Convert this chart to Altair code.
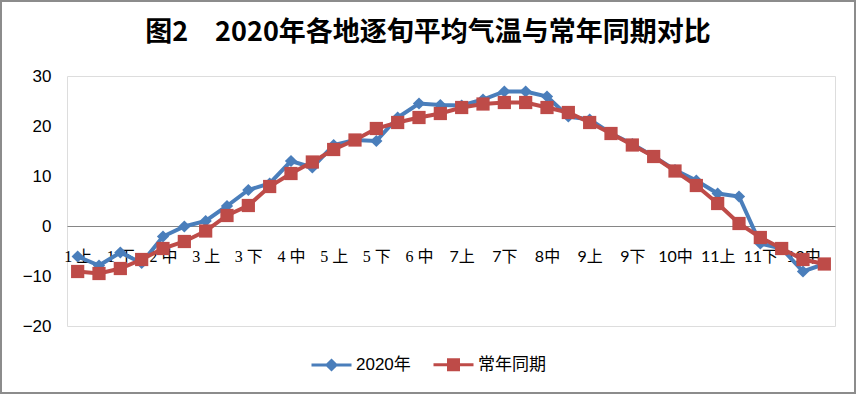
import altair as alt
import pandas as pd

categories = ["1上", "1中", "1下", "2上", "2中", "2下", "3上", "3中", "3下",
              "4上", "4中", "4下", "5上", "5中", "5下", "6上", "6中", "6下",
              "7上", "7中", "7下", "8上", "8中", "8下", "9上", "9中", "9下",
              "10上", "10中", "10下", "11上", "11中", "11下", "12上", "12中", "12下"]
labeled = categories[::2]

series_names = ["2020年", "常年同期"]
temp_2020 = [-6.1, -7.9, -5.3, -7.4, -2.1, -0.1, 1.0, 4.0, 7.2, 8.5, 13.0, 11.7,
             16.2, 17.2, 17.0, 21.7, 24.5, 24.2, 24.1, 25.3, 26.9, 26.9, 25.9, 21.9,
             21.3, 18.5, 16.4, 13.9, 11.2, 9.1, 6.5, 5.9, -3.5, -4.5, -9.1, -7.6]
temp_normal = [-9.1, -9.5, -8.5, -6.7, -4.5, -3.1, -1.0, 2.1, 4.1, 7.9, 10.5, 12.8,
               15.3, 17.2, 19.5, 20.7, 21.7, 22.5, 23.7, 24.4, 24.7, 24.7, 23.7, 22.7,
               20.7, 18.5, 16.2, 13.9, 11.0, 8.1, 4.5, 0.5, -2.3, -4.5, -6.7, -7.6]

colors = ["#4A7EBB", "#BE4B48"]

rows = []
for name, vals in zip(series_names, [temp_2020, temp_normal]):
    for c, v in zip(categories, vals):
        rows.append({"cat": c, "series": name, "value": v})
df = pd.DataFrame(rows)

early = "parseInt(datum.value) <= 6"
x_enc = alt.X("cat:N", sort=categories, title=None,
              axis=alt.Axis(values=labeled, labelAngle=0, ticks=False, grid=False,
                            domainColor="#868686", domainWidth=1, offset=-100,
                            labelPadding=22,
                            labelExpr="parseInt(datum.value) <= 6 ? slice(datum.value, 0, -1) + ' ' + slice(datum.value, -1) : datum.value",
                            labelFont={"condition": {"test": early, "value": "Liberation Serif, Noto Sans CJK SC"},
                                       "value": "Lato, Noto Sans CJK SC"},
                            labelFontSize=16, labelColor="#000000", labelOverlap=False))
y_enc = alt.Y("value:Q", title=None,
              scale=alt.Scale(domain=[-20, 30], nice=False, zero=False),
              axis=alt.Axis(values=[-20, -10, 0, 10, 20, 30], ticks=False, domain=False,
                            grid=False, labelPadding=16, labelFont="Liberation Sans",
                            labelFontSize=17, labelColor="#000000"))

base = alt.Chart(df).encode(x=x_enc, y=y_enc)

layers = []
shapes = ["diamond", "square"]
sizes = [150, 175]
for name, col, shp, sz in zip(series_names, colors, shapes, sizes):
    sub = base.transform_filter(alt.datum.series == name)
    layers.append(sub.mark_line(color=col, strokeWidth=4))
    layers.append(sub.mark_point(color=col, filled=True, opacity=1, shape=shp, size=sz))

legend_paths = [
    "M-1,0L1,0M0,-0.225L0.225,0L0,0.225L-0.225,0ZM0,-0.075L0.075,0L0,0.075L-0.075,0Z",
    "M-1,0L1,0M-0.25,-0.25L0.25,-0.25L0.25,0.25L-0.25,0.25ZM-0.1,-0.1L0.1,-0.1L0.1,0.1L-0.1,0.1ZM-0.025,-0.025L0.025,-0.025L0.025,0.025L-0.025,0.025Z",
]
legend = alt.Legend(title=None, orient="none", direction="horizontal",
                    legendX=243, legendY=267, symbolSize=1600, symbolStrokeWidth=3,
                    symbolOpacity=1, labelFont="Liberation Sans, Noto Sans CJK SC",
                    labelFontSize=17, labelColor="#000000", labelOffset=3,
                    columnPadding=16, padding=0)
hidden = base.mark_point(filled=False, opacity=0).encode(
    color=alt.Color("series:N", scale=alt.Scale(domain=series_names, range=colors), legend=legend),
    shape=alt.Shape("series:N", scale=alt.Scale(domain=series_names, range=legend_paths), legend=legend),
)
layers.append(hidden)

border = alt.Chart(pd.DataFrame({"a": [0]})).mark_rect(
    fill=None, stroke="#8C8C8C", strokeWidth=2
).encode(x=alt.value(-66), x2=alt.value(788), y=alt.value(-75), y2=alt.value(317))

chart = alt.layer(border, *layers).properties(
    width=768, height=250,
    autosize=alt.AutoSizeParams(type="none"),
    padding={"left": 67, "top": 76, "right": 22, "bottom": 69},
    title=alt.TitleParams("图2　2020年各地逐旬平均气温与常年同期对比",
                          font="Noto Sans CJK SC", fontSize=27, fontWeight="bold",
                          color="#000000", anchor="middle", dx=-23, offset=-47),
).configure_view(stroke=None).configure(background="white")

chart.save("out.html", embed_options={"renderer": "svg", "actions": False})
